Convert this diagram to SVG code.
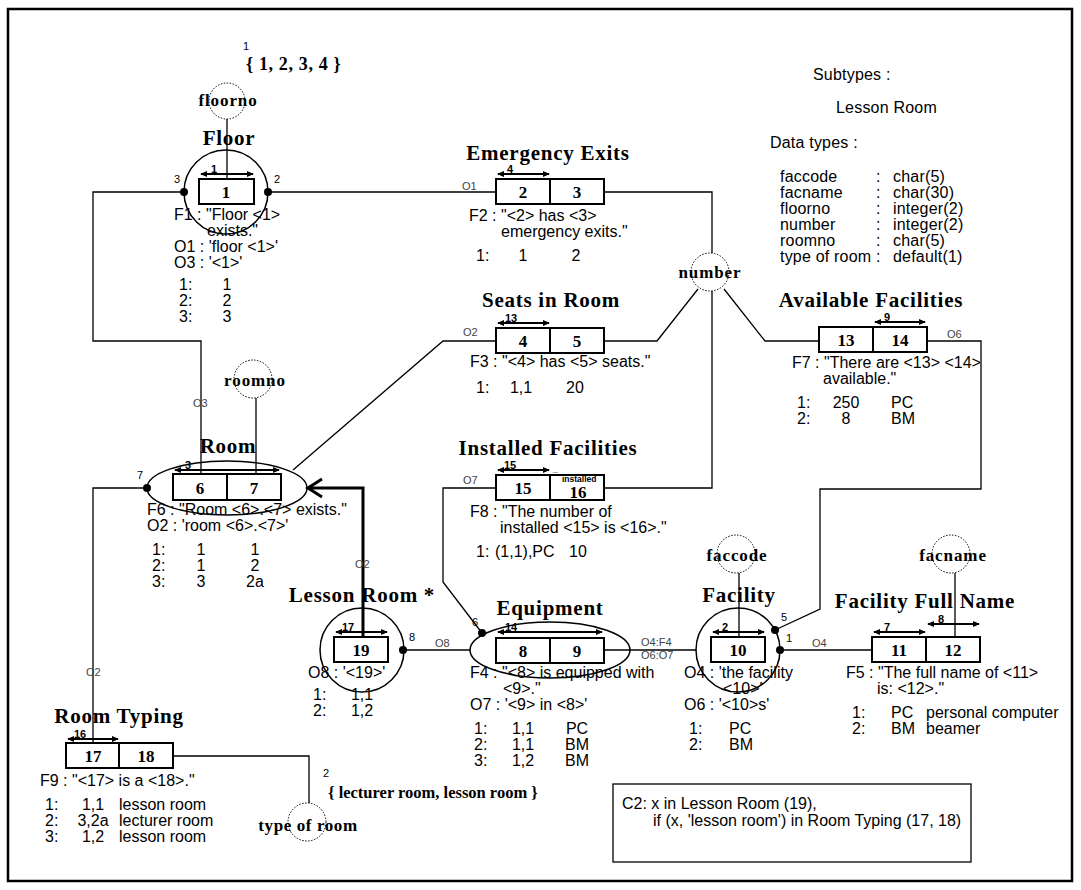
<svg xmlns="http://www.w3.org/2000/svg" width="1081" height="890" viewBox="0 0 1081 890">
<defs>
<marker id="ah" viewBox="0 0 8 8" refX="7" refY="4" markerWidth="7" markerHeight="7" orient="auto-start-reverse" markerUnits="userSpaceOnUse"><path d="M0,0.5 L8,4 L0,7.5 z" fill="#000"/></marker>
<style>
.t{font-family:"Liberation Serif",serif;font-weight:bold;font-size:21px;text-anchor:middle;letter-spacing:0.75px}
.n{font-family:"Liberation Serif",serif;font-weight:bold;font-size:17px;text-anchor:middle}
.a{font-family:"Liberation Serif",serif;font-weight:bold;font-size:17px;text-anchor:middle;letter-spacing:0.9px}
.v{font-family:"Liberation Serif",serif;font-weight:bold;font-size:18px}
.b{font-family:"Liberation Sans",sans-serif;font-size:16px}
.bm{font-family:"Liberation Sans",sans-serif;font-size:16px;text-anchor:middle}
.lg{font-family:"Liberation Sans",sans-serif;font-size:16px;letter-spacing:0.2px}
.c{font-family:"Liberation Sans",sans-serif;font-size:16px}
.s{font-family:"Liberation Sans",sans-serif;font-size:11px}
.al{font-family:"Liberation Sans",sans-serif;font-size:11px;font-weight:bold}
.o{font-family:"Liberation Sans",sans-serif;font-size:11px;fill:#444}
.box{fill:#fff;stroke:#000;stroke-width:2}
.ln{fill:none;stroke:#000;stroke-width:1.3}
.thick{fill:none;stroke:#000;stroke-width:3}
.ar{stroke:#000;stroke-width:2;marker-start:url(#ah);marker-end:url(#ah)}
.dc{fill:none;stroke:#000;stroke-width:1;stroke-dasharray:1.5 1.5}
.ent{fill:none;stroke:#000;stroke-width:1.5}
</style>
</defs>
<rect x="0" y="0" width="1081" height="890" fill="#fff"/>
<rect x="8" y="9" width="1064" height="872" fill="none" stroke="#000" stroke-width="2.5"/>

<g id="connectors">
  <polyline class="ln" points="184,192 93,192 93,341 201,341 201,474"/>
  <polyline class="ln" points="268,192 496,192"/>
  <polyline class="ln" points="604,192 712,192 712,253"/>
  <polyline class="ln" points="604,341 657,341 698,289"/>
  <polyline class="ln" points="712,291 712,488 604,488"/>
  <polyline class="ln" points="724,289 765,341 819,341"/>
  <polyline class="ln" points="496,341 443,341 293,470"/>
  <polyline class="ln" points="926,341 981,341 981,489 820,489 820,609 775,630"/>
  <polyline class="ln" points="147,488 93,488 93,743"/>
  <polyline class="ln" points="496,488 443,488 443,582 482,633"/>
  <polyline class="ln" points="403,650 470,650"/>
  <polyline class="ln" points="603,650 696,650"/>
  <polyline class="ln" points="780,650 872,650"/>
  <polyline class="ln" points="173,756 309,756 309,803"/>
  <polyline class="ln" points="227,119 227,179"/>
  <polyline class="ln" points="256,398 256,474"/>
  <polyline class="ln" points="739,573 739,637"/>
  <polyline class="ln" points="955,573 955,637"/>
  <polyline class="thick" points="363,637 363,488 309,488"/>
  <polyline class="thick" points="322,479 308,488 322,497"/>
  <text class="o" x="462" y="190">O1</text>
  <text class="o" x="463" y="336">O2</text>
  <text class="o" x="463" y="484">O7</text>
  <text class="o" x="947" y="338">O6</text>
  <text class="o" x="193" y="407">O3</text>
  <text class="o" x="355" y="568">O2</text>
  <text class="o" x="86" y="676">O2</text>
  <text class="o" x="435" y="647">O8</text>
  <text class="o" x="812" y="647">O4</text>
  <text class="o" x="641" y="646">O4:F4</text>
  <text class="o" x="641" y="659">O6:O7</text>
</g>

<g id="floor">
  <text class="s" x="243" y="50">1</text>
  <text class="v" x="246" y="70" style="letter-spacing:0.65px">{ 1, 2, 3, 4 }</text>
  <circle class="dc" cx="227" cy="101" r="18"/>
  <text class="a" x="228" y="106">floorno</text>
  <text class="t" x="229" y="145">Floor</text>
  <circle class="ent" cx="226" cy="192" r="42"/>
  <rect class="box" x="199" y="179" width="55" height="25"/>
  <text class="n" x="226" y="198">1</text>
  <line class="ar" x1="201" y1="174" x2="253" y2="174"/>
  <text class="al" x="211" y="173">1</text>
  <circle cx="184" cy="192" r="4"/><text class="s" x="174" y="183">3</text>
  <circle cx="268" cy="192" r="4"/><text class="s" x="274" y="183">2</text>
  <text class="b" x="174" y="220">F1 : "Floor &lt;1&gt;</text>
  <text class="b" x="207" y="236">exists."</text>
  <text class="b" x="174" y="252">O1 : 'floor &lt;1&gt;'</text>
  <text class="b" x="174" y="268">O3 : '&lt;1&gt;'</text>
  <text class="b" x="179" y="290">1:</text><text class="bm" x="227" y="290">1</text>
  <text class="b" x="179" y="306">2:</text><text class="bm" x="227" y="306">2</text>
  <text class="b" x="179" y="322">3:</text><text class="bm" x="227" y="322">3</text>
</g>

<g id="emergency-exits">
  <text class="t" x="548" y="160">Emergency Exits</text>
  <rect class="box" x="496" y="179" width="54" height="25"/>
  <rect class="box" x="550" y="179" width="54" height="25"/>
  <text class="n" x="523" y="198">2</text>
  <text class="n" x="577" y="198">3</text>
  <line class="ar" x1="498" y1="174" x2="549" y2="174"/>
  <text class="al" x="507" y="173">4</text>
  <text class="b" x="469" y="221">F2 : "&lt;2&gt; has &lt;3&gt;</text>
  <text class="b" x="501" y="237">emergency exits."</text>
  <text class="b" x="476" y="261">1:</text><text class="bm" x="523" y="261">1</text><text class="bm" x="576" y="261">2</text>
</g>

<g id="number">
  <circle class="dc" cx="710" cy="272" r="19"/>
  <text class="a" x="710" y="278">number</text>
</g>

<g id="seats-in-room">
  <text class="t" x="551" y="307">Seats in Room</text>
  <rect class="box" x="496" y="328" width="54" height="25"/>
  <rect class="box" x="550" y="328" width="54" height="25"/>
  <text class="n" x="523" y="347">4</text>
  <text class="n" x="577" y="347">5</text>
  <line class="ar" x1="498" y1="323" x2="549" y2="323"/>
  <text class="al" x="505" y="322">13</text>
  <text class="b" x="470" y="367">F3 : "&lt;4&gt; has &lt;5&gt; seats."</text>
  <text class="b" x="476" y="393">1:</text><text class="bm" x="521" y="393">1,1</text><text class="bm" x="575" y="393">20</text>
</g>

<g id="available-facilities">
  <text class="t" x="871" y="307">Available Facilities</text>
  <rect class="box" x="819" y="327" width="54" height="25"/>
  <rect class="box" x="873" y="327" width="54" height="25"/>
  <text class="n" x="846" y="346">13</text>
  <text class="n" x="900" y="346">14</text>
  <line class="ar" x1="875" y1="322" x2="925" y2="322"/>
  <text class="al" x="884" y="321">9</text>
  <text class="b" x="792" y="368">F7 : "There are &lt;13&gt; &lt;14&gt;</text>
  <text class="b" x="823" y="384">available."</text>
  <text class="b" x="797" y="408">1:</text><text class="bm" x="846" y="408">250</text><text class="b" x="891" y="408">PC</text>
  <text class="b" x="797" y="424">2:</text><text class="bm" x="846" y="424">8</text><text class="b" x="891" y="424">BM</text>
</g>

<g id="installed-facilities">
  <text class="t" x="548" y="455">Installed Facilities</text>
  <rect class="box" x="496" y="475" width="54" height="25"/>
  <rect class="box" x="550" y="475" width="54" height="25"/>
  <text class="n" x="523" y="494">15</text>
  <text class="n" x="578" y="498">16</text>
  <text class="al" x="553" y="472" style="font-size:8.5px">_</text>
  <text class="al" x="562" y="482" style="font-size:8.5px">installed</text>
  <line class="ar" x1="498" y1="470" x2="549" y2="470"/>
  <text class="al" x="504" y="469">15</text>
  <text class="b" x="470" y="517">F8 : "The number of</text>
  <text class="b" x="500" y="533">installed &lt;15&gt; is &lt;16&gt;."</text>
  <text class="b" x="476" y="557">1:</text><text class="b" x="495" y="557">(1,1),PC</text><text class="b" x="569" y="557">10</text>
</g>

<g id="room">
  <circle class="dc" cx="253" cy="379" r="19"/>
  <text class="a" x="255" y="386">roomno</text>
  <text class="t" x="228" y="453">Room</text>
  <ellipse class="ent" cx="227" cy="488" rx="80" ry="27"/>
  <rect class="box" x="173" y="474" width="54" height="26"/>
  <rect class="box" x="227" y="474" width="54" height="26"/>
  <text class="n" x="200" y="494">6</text>
  <text class="n" x="254" y="494">7</text>
  <line class="ar" x1="175" y1="470" x2="279" y2="470"/>
  <text class="al" x="185" y="469">3</text>
  <circle cx="147" cy="488" r="4"/><text class="s" x="137" y="479">7</text>
  <text class="b" x="147" y="515">F6 : "Room &lt;6&gt;.&lt;7&gt; exists."</text>
  <text class="b" x="147" y="531">O2 : 'room &lt;6&gt;.&lt;7&gt;'</text>
  <text class="b" x="152" y="555">1:</text><text class="bm" x="201" y="555">1</text><text class="bm" x="255" y="555">1</text>
  <text class="b" x="152" y="571">2:</text><text class="bm" x="201" y="571">1</text><text class="bm" x="255" y="571">2</text>
  <text class="b" x="152" y="587">3:</text><text class="bm" x="201" y="587">3</text><text class="bm" x="255" y="587">2a</text>
</g>

<g id="lesson-room">
  <text class="t" x="362" y="602">Lesson Room *</text>
  <circle class="ent" cx="362" cy="650" r="42"/>
  <rect class="box" x="334" y="637" width="54" height="25"/>
  <text class="n" x="361" y="656">19</text>
  <line class="ar" x1="336" y1="632" x2="387" y2="632"/>
  <text class="al" x="342" y="631">17</text>
  <circle cx="403" cy="650" r="4"/><text class="s" x="409" y="641">8</text>
  <text class="b" x="308" y="678">O8 : '&lt;19&gt;'</text>
  <text class="b" x="313" y="700">1:</text><text class="bm" x="362" y="700">1,1</text>
  <text class="b" x="313" y="716">2:</text><text class="bm" x="362" y="716">1,2</text>
</g>

<g id="equipment">
  <text class="t" x="550" y="615">Equipment</text>
  <ellipse class="ent" cx="550" cy="650" rx="80" ry="28"/>
  <rect class="box" x="496" y="638" width="54" height="25"/>
  <rect class="box" x="550" y="638" width="54" height="25"/>
  <text class="n" x="523" y="657">8</text>
  <text class="n" x="577" y="657">9</text>
  <line class="ar" x1="498" y1="632" x2="602" y2="632"/>
  <text class="al" x="505" y="631">14</text>
  <circle cx="482" cy="633" r="4"/><text class="s" x="472" y="626">6</text>
  <text class="b" x="470" y="678">F4 : "&lt;8&gt; is equipped with</text>
  <text class="b" x="503" y="694">&lt;9&gt;."</text>
  <text class="b" x="470" y="710">O7 : '&lt;9&gt; in &lt;8&gt;'</text>
  <text class="b" x="474" y="734">1:</text><text class="bm" x="523" y="734">1,1</text><text class="bm" x="577" y="734">PC</text>
  <text class="b" x="474" y="750">2:</text><text class="bm" x="523" y="750">1,1</text><text class="bm" x="577" y="750">BM</text>
  <text class="b" x="474" y="766">3:</text><text class="bm" x="523" y="766">1,2</text><text class="bm" x="577" y="766">BM</text>
</g>

<g id="facility">
  <circle class="dc" cx="736" cy="554" r="19"/>
  <text class="a" x="737" y="561">faccode</text>
  <text class="t" x="739" y="602">Facility</text>
  <circle class="ent" cx="738" cy="650" r="42"/>
  <rect class="box" x="711" y="637" width="54" height="25"/>
  <text class="n" x="738" y="656">10</text>
  <line class="ar" x1="713" y1="632" x2="764" y2="632"/>
  <text class="al" x="722" y="631">2</text>
  <circle cx="775" cy="630" r="4"/><text class="s" x="781" y="621">5</text>
  <circle cx="780" cy="650" r="4"/><text class="s" x="786" y="642">1</text>
  <text class="b" x="684" y="678">O4 : 'the facility</text>
  <text class="b" x="723" y="694">&lt;10&gt;'</text>
  <text class="b" x="684" y="710">O6 : '&lt;10&gt;s'</text>
  <text class="b" x="689" y="734">1:</text><text class="b" x="729" y="734">PC</text>
  <text class="b" x="689" y="750">2:</text><text class="b" x="729" y="750">BM</text>
</g>

<g id="facility-full-name">
  <circle class="dc" cx="951" cy="554" r="19"/>
  <text class="a" x="953" y="561">facname</text>
  <text class="t" x="925" y="608">Facility Full Name</text>
  <rect class="box" x="872" y="637" width="54" height="25"/>
  <rect class="box" x="926" y="637" width="54" height="25"/>
  <text class="n" x="899" y="656">11</text>
  <text class="n" x="953" y="656">12</text>
  <line class="ar" x1="874" y1="632" x2="925" y2="632"/>
  <text class="al" x="884" y="631">7</text>
  <line class="ar" x1="928" y1="624" x2="979" y2="624"/>
  <text class="al" x="938" y="623">8</text>
  <text class="b" x="846" y="678">F5 : "The full name of &lt;11&gt;</text>
  <text class="b" x="877" y="694">is: &lt;12&gt;."</text>
  <text class="b" x="852" y="718">1:</text><text class="b" x="891" y="718">PC</text><text class="b" x="926" y="718">personal computer</text>
  <text class="b" x="852" y="734">2:</text><text class="b" x="891" y="734">BM</text><text class="b" x="926" y="734">beamer</text>
</g>

<g id="room-typing">
  <text class="t" x="119" y="723">Room Typing</text>
  <rect class="box" x="66" y="743" width="53" height="25"/>
  <rect class="box" x="119" y="743" width="54" height="25"/>
  <text class="n" x="93" y="762">17</text>
  <text class="n" x="146" y="762">18</text>
  <line class="ar" x1="68" y1="739" x2="118" y2="739"/>
  <text class="al" x="74" y="738">16</text>
  <text class="b" x="40" y="786">F9 : "&lt;17&gt; is a &lt;18&gt;."</text>
  <text class="b" x="45" y="810">1:</text><text class="bm" x="93" y="810">1,1</text><text class="b" x="119" y="810">lesson room</text>
  <text class="b" x="45" y="826">2:</text><text class="bm" x="93" y="826">3,2a</text><text class="b" x="119" y="826">lecturer room</text>
  <text class="b" x="45" y="842">3:</text><text class="bm" x="93" y="842">1,2</text><text class="b" x="119" y="842">lesson room</text>
</g>

<g id="type-of-room">
  <circle class="dc" cx="307" cy="822" r="19"/>
  <text class="a" x="308" y="831" style="letter-spacing:0.6px">type of room</text>
  <text class="s" x="323" y="777">2</text>
  <text class="v" x="328" y="798" style="font-size:16.5px">{ lecturer room, lesson room }</text>
</g>

<g id="legend">
  <text class="lg" x="813" y="80">Subtypes :</text>
  <text class="lg" x="836" y="113">Lesson Room</text>
  <text class="lg" x="770" y="148">Data types :</text>
  <text class="lg" x="780" y="182">faccode</text><text class="lg" x="876" y="182">:</text><text class="lg" x="893" y="182">char(5)</text>
  <text class="lg" x="780" y="198">facname</text><text class="lg" x="876" y="198">:</text><text class="lg" x="893" y="198">char(30)</text>
  <text class="lg" x="780" y="214">floorno</text><text class="lg" x="876" y="214">:</text><text class="lg" x="893" y="214">integer(2)</text>
  <text class="lg" x="780" y="230">number</text><text class="lg" x="876" y="230">:</text><text class="lg" x="893" y="230">integer(2)</text>
  <text class="lg" x="780" y="246">roomno</text><text class="lg" x="876" y="246">:</text><text class="lg" x="893" y="246">char(5)</text>
  <text class="lg" x="780" y="262">type of room</text><text class="lg" x="876" y="262">:</text><text class="lg" x="893" y="262">default(1)</text>
</g>

<g id="constraint-c2">
  <rect x="613" y="784" width="358" height="78" fill="#fff" stroke="#000" stroke-width="1.3"/>
  <text class="c" x="622" y="809">C2: x in Lesson Room (19),</text>
  <text class="c" x="653" y="826">if  (x, 'lesson room') in Room Typing (17, 18)</text>
</g>
</svg>
